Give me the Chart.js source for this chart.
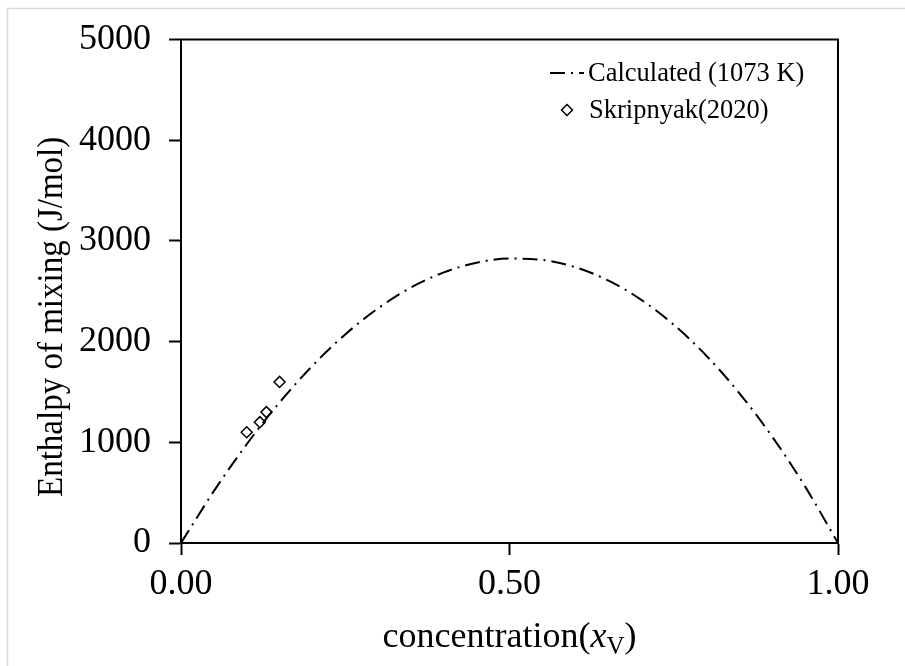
<!DOCTYPE html>
<html>
<head>
<meta charset="utf-8">
<script src="https://cdn.jsdelivr.net/npm/chart.js@4.4.1/dist/chart.umd.min.js"></script>
<style>
  html, body { margin: 0; padding: 0; background: #ffffff; }
  #wrap { position: relative; width: 905px; height: 666px; }
  canvas { display: block; }
</style>
</head>
<body>
<div id="wrap"><canvas id="c" width="905" height="666"></canvas></div>
<script>
// ---- data ----
const calcX = [0, 0.05, 0.10, 0.15, 0.20, 0.25, 0.30, 0.35, 0.40, 0.45, 0.50, 0.55, 0.60, 0.65, 0.70, 0.75, 0.80, 0.85, 0.90, 0.95, 1.00];
const calcY = [0, 515, 981, 1396, 1760, 2072, 2331, 2537, 2688, 2784, 2825, 2812, 2740, 2608, 2418, 2168, 1858, 1487, 1055, 560, 0];
const expX = [0.10, 0.12, 0.13, 0.15];
const expY = [1100, 1200, 1300, 1600];
const xTickValues = [0, 0.5, 1.0];
const xTickLabels = ['0.00', '0.50', '1.00'];
const yTickValues = [0, 1000, 2000, 3000, 4000, 5000];
const yTickLabels = ['0', '1000', '2000', '3000', '4000', '5000'];
const legendLabels = ['Calculated (1073 K)', 'Skripnyak(2020)'];
const xTitle = ['concentration(', 'x', 'V', ')'];
const yTitle = 'Enthalpy of mixing (J/mol)';

const SERIF = '"Liberation Serif", "Times New Roman", serif';
const DASH = [15, 6, 2, 6];

const calcData = calcX.map((x, i) => ({ x: x, y: calcY[i] }));
const expData = expX.map((x, i) => ({ x: x, y: expY[i] }));

const decor = {
  id: 'decor',
  beforeDraw(chart) {
    const ctx = chart.ctx;
    ctx.save();
    ctx.fillStyle = '#ffffff';
    ctx.fillRect(0, 0, chart.width, chart.height);
    // light outer frame (top and left)
    ctx.strokeStyle = '#d9d9d9';
    ctx.lineWidth = 1.5;
    ctx.beginPath();
    ctx.moveTo(7.5, 666);
    ctx.lineTo(7.5, 8.5);
    ctx.lineTo(905, 8.5);
    ctx.stroke();
    ctx.restore();
  },
  afterDraw(chart) {
    const ctx = chart.ctx;
    const a = chart.chartArea;
    ctx.save();
    // top + right frame lines
    ctx.strokeStyle = '#000';
    ctx.lineWidth = 2;
    ctx.beginPath();
    ctx.moveTo(a.left - 1, a.top);
    ctx.lineTo(a.right, a.top);
    ctx.lineTo(a.right, a.bottom + 1);
    ctx.stroke();

    // y title
    ctx.fillStyle = '#000';
    ctx.font = '33px ' + SERIF;
    ctx.textAlign = 'left';
    ctx.textBaseline = 'alphabetic';
    ctx.save();
    ctx.translate(62, 497);
    ctx.rotate(-Math.PI / 2);
    ctx.scale(1, 1.1);
    ctx.fillText(yTitle, 0, 0);
    ctx.restore();

    // x title with italic x and subscript V
    const fNorm = '36px ' + SERIF;
    const fItal = 'italic 36px ' + SERIF;
    const fSub = '25px ' + SERIF;
    ctx.textAlign = 'left';
    ctx.font = fNorm; const w0 = ctx.measureText(xTitle[0]).width;
    ctx.font = fItal; const w1 = ctx.measureText(xTitle[1]).width;
    ctx.font = fSub; const w2 = ctx.measureText(xTitle[2]).width;
    ctx.font = fNorm; const w3 = ctx.measureText(xTitle[3]).width;
    const total = w0 + w1 + w2 + w3;
    let tx = (a.left + a.right) / 2 - total / 2;
    const by = 647;
    ctx.font = fNorm; ctx.fillText(xTitle[0], tx, by); tx += w0;
    ctx.font = fItal; ctx.fillText(xTitle[1], tx, by); tx += w1;
    ctx.font = fSub; ctx.fillText(xTitle[2], tx, by + 7); tx += w2;
    ctx.font = fNorm; ctx.fillText(xTitle[3], tx, by);

    // legend
    ctx.font = '26.5px ' + SERIF;
    ctx.textBaseline = 'middle';
    ctx.strokeStyle = '#000';
    ctx.lineWidth = 2;
    ctx.setLineDash(DASH);
    ctx.beginPath();
    ctx.moveTo(550, 73);
    ctx.lineTo(584, 73);
    ctx.stroke();
    ctx.setLineDash([]);
    ctx.fillText(legendLabels[0], 588, 74);
    // diamond
    ctx.lineWidth = 1.5;
    ctx.beginPath();
    const dx = 567, dy = 110, r = 5.5;
    ctx.moveTo(dx, dy - r);
    ctx.lineTo(dx + r, dy);
    ctx.lineTo(dx, dy + r);
    ctx.lineTo(dx - r, dy);
    ctx.closePath();
    ctx.stroke();
    ctx.fillText(legendLabels[1], 589, 111);
    ctx.restore();
  }
};

new Chart(document.getElementById('c'), {
  type: 'scatter',
  data: {
    datasets: [
      {
        label: legendLabels[0],
        data: calcData,
        showLine: true,
        borderColor: '#000',
        borderWidth: 2,
        borderDash: DASH,
        pointRadius: 0,
        tension: 0.4,
        cubicInterpolationMode: 'monotone',
        fill: false
      },
      {
        label: legendLabels[1],
        data: expData,
        showLine: false,
        pointStyle: 'rectRot',
        pointRadius: 5.5,
        pointBorderWidth: 1.5,
        pointBorderColor: '#000',
        pointBackgroundColor: 'rgba(255,255,255,0)'
      }
    ]
  },
  options: {
    responsive: false,
    animation: false,
    devicePixelRatio: 1,
    layout: { padding: { top: 35, right: 67, left: 0, bottom: 0 } },
    plugins: {
      legend: { display: false },
      tooltip: { enabled: false },
      title: { display: false }
    },
    scales: {
      x: {
        type: 'linear',
        min: 0,
        max: 1,
        afterBuildTicks(scale) { scale.ticks = xTickValues.map(v => ({ value: v })); },
        afterFit(scale) { scale.height = 123; },
        ticks: {
          callback: (v) => { const i = xTickValues.indexOf(v); return i >= 0 ? xTickLabels[i] : ''; },
          color: '#000',
          font: { family: SERIF, size: 36 },
          padding: 8,
          maxRotation: 0,
          autoSkip: false
        },
        grid: { drawOnChartArea: false, drawTicks: true, tickLength: 12, tickColor: '#000', tickWidth: 2 },
        border: { display: true, color: '#000', width: 2 }
      },
      y: {
        type: 'linear',
        min: 0,
        max: 5000,
        afterBuildTicks(scale) { scale.ticks = yTickValues.map(v => ({ value: v })); },
        afterFit(scale) { scale.width = 181; },
        ticks: {
          callback: (v) => { const i = yTickValues.indexOf(v); return i >= 0 ? yTickLabels[i] : ''; },
          color: '#000',
          font: { family: SERIF, size: 36 },
          padding: 18,
          autoSkip: false
        },
        grid: { drawOnChartArea: false, drawTicks: true, tickLength: 12, tickColor: '#000', tickWidth: 2 },
        border: { display: true, color: '#000', width: 2 }
      }
    }
  },
  plugins: [decor]
});
</script>
</body>
</html>
